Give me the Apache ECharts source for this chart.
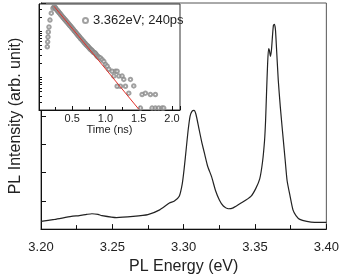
<!DOCTYPE html>
<html><head><meta charset="utf-8">
<script src="https://cdn.jsdelivr.net/npm/echarts@6/dist/echarts.min.js"></script>
<style>html,body{margin:0;padding:0;background:#fff}#c{width:342px;height:280px}</style>
</head><body><div id="c"></div>
<script>
// Main PL spectrum
var energy = [3.2000,3.2096,3.2213,3.2268,3.2320,3.2357,3.2400,3.2426,3.2529,3.2646,3.2749,3.2832,3.2900,3.2935,3.2969,3.2990,3.3003,3.3017,3.3031,3.3045,3.3058,3.3072,3.3086,3.3107,3.3127,3.3148,3.3168,3.3196,3.3223,3.3251,3.3278,3.3313,3.3347,3.3402,3.3471,3.3505,3.3533,3.3553,3.3567,3.3574,3.3581,3.3588,3.3595,3.3601,3.3608,3.3615,3.3622,3.3629,3.3636,3.3643,3.3649,3.3663,3.3677,3.3691,3.3711,3.3725,3.3746,3.3766,3.3787,3.3814,3.3863,3.3918,3.4000];
var intensity = [34,43,56,60,65,68,65,60,51,56,64,85,115,124,145,200,265,350,436,500,521,525,508,444,384,329,278,231,171,128,102,90,94,115,145,179,222,299,393,478,606,726,798,790,764,790,850,901,906,884,820,658,543,444,308,214,145,85,60,43,34,30,30];
var energyTicks = [3.20,3.25,3.30,3.35,3.40];

// Inset TRPL decay
var timeNs = [0.125,0.130,0.135,0.140,0.150,0.165,0.185,0.210,0.225,0.235,0.245,0.255,0.265,0.275,0.285,0.295,0.305,0.315,0.325,0.335,0.345,0.355,0.365,0.375,0.385,0.395,0.405,0.415,0.425,0.435,0.445,0.455,0.465,0.475,0.485,0.495,0.505,0.515,0.525,0.535,0.545,0.555,0.565,0.575,0.585,0.595,0.605,0.615,0.625,0.635,0.645,0.655,0.665,0.675,0.685,0.695,0.705,0.715,0.725,0.735,0.745,0.755,0.765,0.775,0.785,0.795,0.805,0.815,0.825,0.835,0.845,0.855,0.865,0.875,0.885,0.895,0.905,0.925,0.95,0.975,1.00,1.025,1.05,1.10,1.15,1.175,1.125,1.20,1.25,1.275,1.375,1.175,1.225,1.30,1.425,1.35,1.55,1.60,1.675,1.75,1.525,1.70,1.75,1.80,1.85,1.875];
var counts = [457,583,745,953,1217,1714,2415,3084,3290,3300,3150,3000,2880,2760,2690,2560,2450,2380,2260,2190,2080,2010,1930,1870,1790,1720,1660,1600,1530,1480,1420,1360,1310,1270,1210,1170,1120,1080,1030,990,960,920,880,850,810,790,750,730,690,670,650,620,600,580,550,540,510,500,480,470,450,430,420,400,395,380,370,350,345,340,330,320,300,290,280,275,265,262,240,222,190,174,150,136,136,136,107,107,107,91,91,65,65,65,66,46,43,46,43,43,22,22,22,22,22,22];
var fitTime = [0.225, 1.5];
var fitCounts = [3400, 20.8];
var logTicks = [30,40,50,60,70,80,90,100,200,300,400,500,600,700,800,900,1000,2000,3000];
var timeTicks = [0.5,1.0,1.5,2.0];
var legendLabel = '3.362eV; 240ps';

var FONT = 'Liberation Sans, Arial, sans-serif';
var TXT = '#222';
var chart = echarts.init(document.getElementById('c'), null, {renderer:'canvas'});
chart.setOption({
  animation: false,
  backgroundColor: '#fff',
  textStyle: {fontFamily: FONT},
  legend: {
    data: [legendLabel], left: 77, top: 9, itemWidth: 5, itemHeight: 5, itemGap: 6, z: 20,
    textStyle: {fontSize: 13, color: TXT, fontFamily: FONT}
  },
  grid: [
    {left: 35, right: 15, top: 3, bottom: 43, show: true, borderColor: '#555', borderWidth: 1, containLabel: false},
    {left: 39, top: 4, width: 141, height: 106, show: true, borderColor: '#333', borderWidth: 1, backgroundColor: '#fff', z: 5}
  ],
  xAxis: [
    {gridIndex: 0, type: 'value', min: 3.2, max: 3.4, interval: 0.05,
     axisLine: {lineStyle: {color: '#111'}},
     axisTick: {inside: true, length: 5, lineStyle: {color: '#111'}},
     minorTick: {show: true, splitNumber: 2, length: 4, lineStyle: {color: '#111'}},
     splitLine: {show: false},
     axisLabel: {fontSize: 13, color: TXT, margin: 12, fontFamily: FONT, formatter: function(v){return v.toFixed(2);}},
     name: 'PL Energy (eV)', nameLocation: 'middle', nameGap: 27,
     nameTextStyle: {fontSize: 16, color: TXT, fontFamily: FONT}},
    {gridIndex: 1, type: 'value', min: 0, max: 2.12, interval: 0.5, z: 6,
     axisLine: {lineStyle: {color: '#111'}},
     axisTick: {inside: true, length: 4, lineStyle: {color: '#111'}},
     minorTick: {show: true, splitNumber: 2, length: 3, lineStyle: {color: '#111'}},
     splitLine: {show: false},
     axisLabel: {fontSize: 11, color: TXT, margin: 3, fontFamily: FONT, showMinLabel: false,
       formatter: function(v){return v === 0 ? '' : v.toFixed(1);}},
     name: 'Time (ns)', nameLocation: 'middle', nameGap: 13,
     nameTextStyle: {fontSize: 11, color: TXT, fontFamily: FONT}}
  ],
  yAxis: [
    {gridIndex: 0, type: 'value', min: 0, max: 1000, interval: 125,
     axisLine: {show: true, lineStyle: {color: '#111'}},
     axisTick: {show: true, inside: true, length: 5, lineStyle: {color: '#111'}},
     splitLine: {show: false},
     axisLabel: {show: false},
     name: 'PL Intensity (arb. unit)', nameLocation: 'middle', nameGap: 17,
     nameTextStyle: {fontSize: 16, color: TXT, fontFamily: FONT}},
    {gridIndex: 1, type: 'log', logBase: 10, min: 20, max: 3800, z: 6,
     axisLine: {show: true, lineStyle: {color: '#111'}},
     axisTick: {show: true, inside: true, length: 3, customValues: logTicks, lineStyle: {color: '#111'}},
     splitLine: {show: false},
     axisLabel: {show: false}}
  ],
  series: [
    {type: 'line', xAxisIndex: 0, yAxisIndex: 0, showSymbol: false, symbol: 'none',
     data: energy.map(function(e, i){return [e, intensity[i]];}),
     lineStyle: {color: '#222', width: 1.2}, smooth: 0.2, z: 2},
    {type: 'scatter', name: legendLabel, xAxisIndex: 1, yAxisIndex: 1, symbol: 'emptyCircle', symbolSize: 3.5,
     data: timeNs.map(function(t, i){return [t, counts[i]];}),
     itemStyle: {color: '#8a8a8a', borderWidth: 0.6}, z: 7},
    {type: 'line', xAxisIndex: 1, yAxisIndex: 1, showSymbol: false, symbol: 'none',
     data: fitTime.map(function(t, i){return [t, fitCounts[i]];}),
     lineStyle: {color: '#e0302a', width: 1}, z: 8}
  ]
});
</script></body></html>
